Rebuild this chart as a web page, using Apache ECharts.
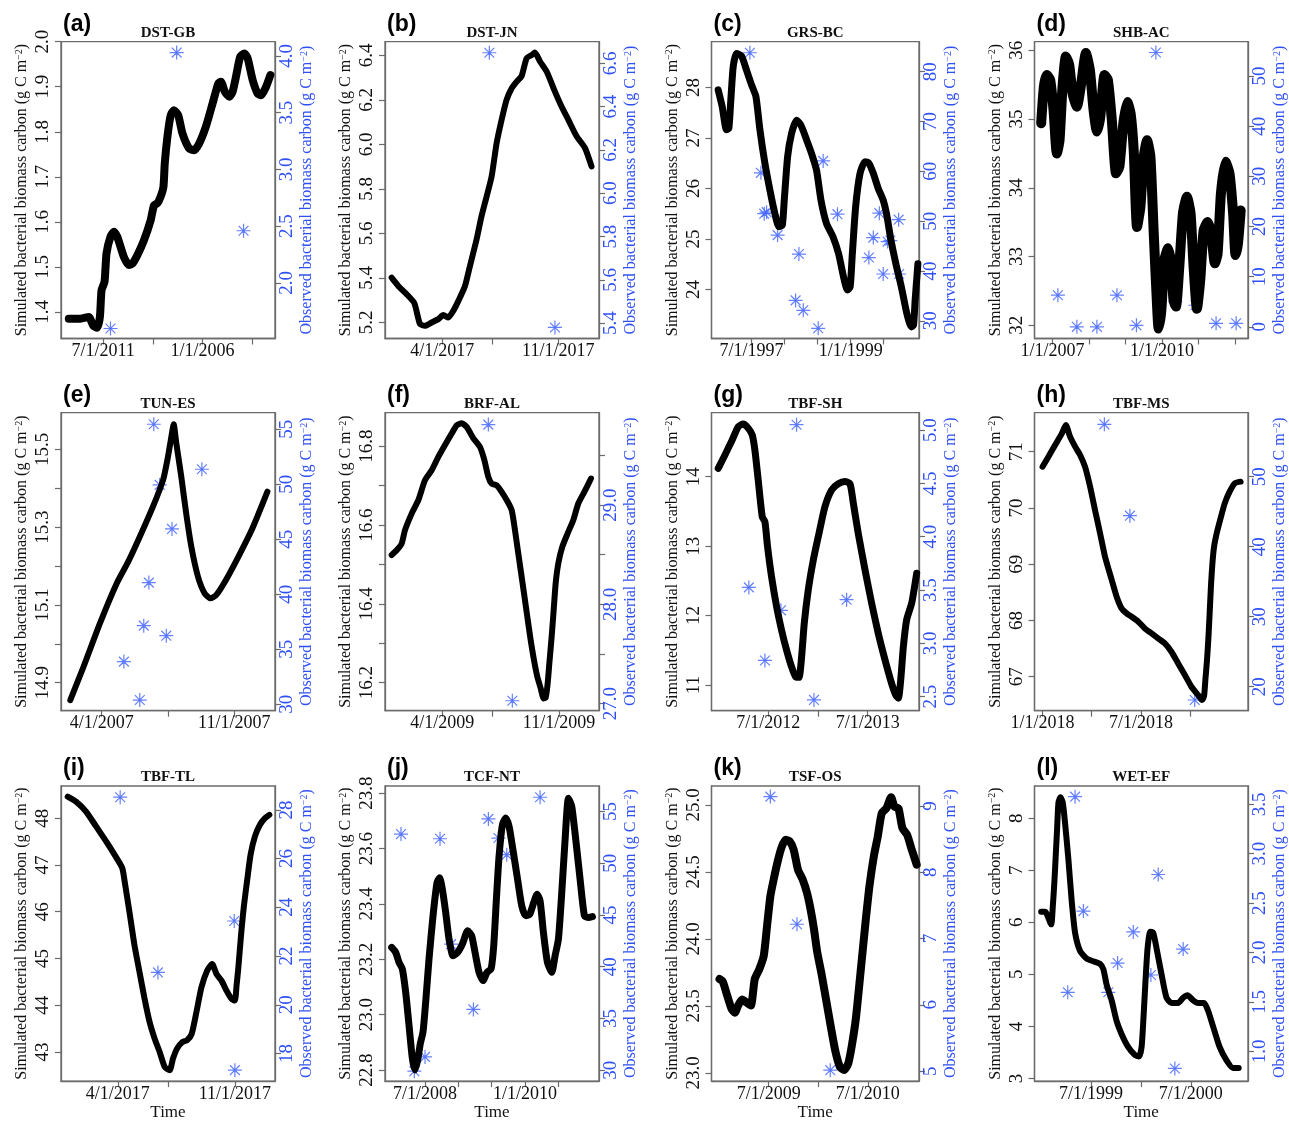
<!DOCTYPE html>
<html>
<head>
<meta charset="utf-8">
<script src="https://cdn.jsdelivr.net/npm/echarts@6/dist/echarts.min.js"></script>
<style>
  html, body { margin: 0; padding: 0; background: #fff; }
  #chart { width: 1289px; height: 1122px; }
</style>
</head>
<body>
<div id="chart"></div>
<script>
// x values are months from the first labelled tick of each panel
const siteNames = ['DST-GB', 'DST-JN', 'GRS-BC', 'SHB-AC', 'TUN-ES', 'BRF-AL', 'TBF-SH', 'TBF-MS', 'TBF-TL', 'TCF-NT', 'TSF-OS', 'WET-EF']
const panelLetters = ['(a)', '(b)', '(c)', '(d)', '(e)', '(f)', '(g)', '(h)', '(i)', '(j)', '(k)', '(l)']

// simulated (black) series, [month, g C m-2]
const simA = [[-2.08,1.385],[-1.37,1.385],[-0.87,1.389],[-0.61,1.370],[-0.36,1.365],[-0.20,1.389],[-0.10,1.448],[0.08,1.467],[0.20,1.530],[0.44,1.567],[0.65,1.578],[0.85,1.567],[1.25,1.522],[1.56,1.504],[1.76,1.507],[2.06,1.526],[2.46,1.559],[2.87,1.604],[3.07,1.637],[3.27,1.641],[3.47,1.656],[3.64,1.678],[3.72,1.730],[3.88,1.789],[4.08,1.837],[4.28,1.848],[4.53,1.837],[4.79,1.796],[5.19,1.763],[5.49,1.759],[5.80,1.774],[6.20,1.811],[6.61,1.863],[6.95,1.907],[7.11,1.911],[7.35,1.889],[7.62,1.878],[7.82,1.889],[8.02,1.922],[8.28,1.967],[8.53,1.974],[8.73,1.963],[9.03,1.915],[9.33,1.885],[9.54,1.881],[9.84,1.900],[10.10,1.926]]
const simB = [[-3.06,5.401],[-2.66,5.364],[-2.15,5.327],[-1.69,5.287],[-1.35,5.193],[-1.05,5.185],[-0.64,5.200],[-0.24,5.215],[0.06,5.233],[0.36,5.222],[0.66,5.252],[0.97,5.297],[1.37,5.364],[1.67,5.454],[2.07,5.573],[2.37,5.678],[2.68,5.767],[2.98,5.857],[3.28,6.006],[3.58,6.110],[3.88,6.200],[4.19,6.252],[4.49,6.282],[4.79,6.307],[5.09,6.387],[5.39,6.401],[5.59,6.412],[5.90,6.372],[6.30,6.327],[6.80,6.237],[7.20,6.170],[7.61,6.110],[8.11,6.036],[8.61,5.984],[9.01,5.901]]
const simC = [[-6.06,27.95],[-5.33,27.62],[-4.55,27.16],[-4.12,27.19],[-3.76,27.75],[-3.33,28.41],[-2.73,28.67],[-1.82,28.62],[-0.91,28.34],[0,28.05],[0.79,27.82],[1.52,27.16],[2.42,26.50],[3.33,25.97],[4.24,25.50],[4.97,25.24],[5.58,25.27],[5.94,25.77],[6.55,26.63],[7.27,27.09],[8.18,27.35],[8.97,27.25],[10.0,26.96],[10.9,26.69],[11.8,26.36],[12.6,25.77],[13.6,25.31],[14.8,25.04],[15.8,24.71],[16.7,24.25],[17.4,23.99],[17.9,24.05],[18.3,24.71],[18.9,25.64],[19.7,26.30],[20.6,26.53],[21.3,26.50],[22.1,26.30],[23.0,26.00],[23.9,25.77],[24.5,25.50],[25.3,24.98],[26.2,24.51],[27.2,24.05],[28.2,23.52],[29.0,23.26],[29.4,23.29],[29.7,23.79],[30.2,24.51]]
const simD = [[-3.73,34.94],[-2.85,35.47],[-1.87,35.64],[-0.77,35.57],[0.33,35.13],[1.43,34.50],[2.31,34.69],[3.29,35.47],[4.39,35.91],[5.49,35.79],[6.59,35.37],[8.01,35.18],[9.44,35.52],[10.98,35.96],[12.29,35.71],[13.5,35.13],[14.6,34.82],[15.7,35.03],[17.1,35.64],[18.2,35.57],[19.5,34.99],[20.9,34.21],[22.0,34.31],[23.3,34.94],[24.6,35.25],[25.7,35.08],[26.7,34.55],[27.8,33.43],[28.9,33.72],[30.0,34.45],[31.1,34.69],[32.2,34.45],[33.3,33.33],[34.4,32.27],[34.9,31.95],[35.8,32.22],[36.8,32.95],[38.0,33.12],[39.0,32.90],[39.8,32.36],[40.6,32.27],[41.7,32.85],[42.9,33.63],[44.2,33.87],[45.4,33.63],[46.4,32.85],[47.5,32.24],[48.6,32.66],[49.7,33.38],[51.0,33.50],[52.2,33.33],[53.4,32.90],[54.3,33.04],[55.4,33.92],[56.9,34.38],[58.2,34.21],[59.4,33.63],[60.2,33.02],[61.0,33.19],[61.9,33.67]]
const simE = [[-1.66,14.855],[-0.96,14.941],[-0.09,15.053],[0.79,15.155],[1.40,15.211],[2.01,15.275],[2.71,15.353],[3.24,15.421],[3.50,15.481],[3.68,15.533],[3.80,15.564],[3.94,15.515],[4.20,15.430],[4.46,15.335],[4.73,15.250],[5.08,15.173],[5.43,15.130],[5.74,15.117],[6.04,15.125],[6.56,15.164],[7.26,15.228],[7.96,15.297],[8.75,15.391]]
const simF = [[-3.04,16.524],[-2.74,16.536],[-2.44,16.553],[-2.24,16.587],[-1.84,16.629],[-1.44,16.663],[-1.04,16.714],[-0.64,16.739],[-0.24,16.773],[0.16,16.803],[0.56,16.832],[0.86,16.853],[1.16,16.858],[1.46,16.849],[1.86,16.820],[2.26,16.798],[2.52,16.765],[2.76,16.722],[2.96,16.705],[3.26,16.701],[3.56,16.684],[3.92,16.659],[4.16,16.638],[4.30,16.604],[4.50,16.545],[4.70,16.486],[4.90,16.427],[5.10,16.367],[5.30,16.308],[5.50,16.257],[5.70,16.215],[5.90,16.186],[6.08,16.160],[6.20,16.162],[6.32,16.198],[6.42,16.249],[6.56,16.317],[6.68,16.384],[6.80,16.452],[6.96,16.503],[7.20,16.545],[7.52,16.579],[7.86,16.613],[8.16,16.655],[8.52,16.684],[8.92,16.718]]
const simG = [[-6.04,14.12],[-5.24,14.31],[-4.35,14.53],[-3.62,14.72],[-3.02,14.76],[-2.42,14.70],[-1.93,14.60],[-1.61,14.38],[-1.21,13.95],[-0.72,13.42],[-0.40,13.35],[-0.08,12.99],[0.40,12.56],[1.01,12.13],[1.61,11.79],[2.22,11.50],[2.82,11.26],[3.30,11.12],[3.71,11.11],[4.03,11.41],[4.35,11.89],[4.83,12.37],[5.44,12.80],[6.12,13.18],[6.85,13.57],[7.65,13.81],[8.46,13.90],[9.26,13.93],[9.87,13.90],[10.27,13.62],[10.87,13.18],[11.68,12.66],[12.48,12.18],[13.29,11.74],[14.10,11.36],[14.90,11.02],[15.38,10.86],[15.71,10.81],[15.99,11.07],[16.31,11.55],[16.71,11.94],[17.32,12.18],[17.92,12.61]]
const simH = [[0,70.733],[0.36,70.911],[0.77,71.119],[1.18,71.326],[1.42,71.474],[1.68,71.267],[1.99,71.089],[2.29,70.941],[2.59,70.733],[2.90,70.378],[3.20,69.963],[3.51,69.548],[3.81,69.133],[4.22,68.719],[4.52,68.422],[4.82,68.215],[5.13,68.126],[5.43,68.067],[5.84,67.978],[6.24,67.859],[6.65,67.770],[7.05,67.681],[7.46,67.593],[7.86,67.444],[8.27,67.237],[8.68,67.030],[9.08,66.822],[9.49,66.674],[9.73,66.585],[9.85,66.656],[9.93,66.941],[10.03,67.296],[10.12,67.711],[10.20,68.185],[10.28,68.659],[10.36,69.015],[10.46,69.311],[10.62,69.548],[10.83,69.785],[11.11,70.081],[11.41,70.289],[11.72,70.437],[12.08,70.467]]
const simI = [[-3.0,48.461],[-2.5,48.355],[-1.9,48.142],[-1.3,47.823],[-0.7,47.504],[-0.2,47.220],[0.26,46.936],[0.42,46.617],[0.70,45.979],[1.00,45.270],[1.30,44.702],[1.60,44.135],[1.90,43.638],[2.20,43.284],[2.50,43.000],[2.80,42.681],[3.10,42.610],[3.30,42.858],[3.54,43.071],[3.86,43.213],[4.14,43.248],[4.42,43.390],[4.70,43.851],[5.00,44.383],[5.34,44.738],[5.64,44.879],[5.90,44.667],[6.20,44.525],[6.50,44.312],[6.80,44.135],[7.00,44.099],[7.10,44.418],[7.20,44.773],[7.30,45.199],[7.40,45.624],[7.54,46.121],[7.74,46.688],[7.94,47.220],[8.20,47.610],[8.50,47.858],[8.80,48.000],[9.06,48.071]]
const simJ = [[-6.0,23.243],[-5.28,23.225],[-4.68,23.189],[-4.08,23.165],[-3.48,23.081],[-2.88,22.962],[-2.28,22.842],[-1.80,22.800],[-1.32,22.836],[-0.84,22.896],[-0.36,22.938],[0.12,23.046],[0.72,23.201],[1.44,23.357],[2.16,23.477],[2.64,23.495],[3.12,23.453],[3.72,23.369],[4.32,23.273],[5.04,23.213],[5.88,23.225],[6.72,23.255],[7.68,23.303],[8.40,23.285],[9.00,23.225],[9.72,23.153],[10.44,23.123],[11.16,23.153],[11.88,23.165],[12.36,23.249],[12.84,23.417],[13.32,23.572],[13.92,23.686],[14.52,23.710],[15.12,23.680],[15.72,23.608],[16.56,23.501],[17.40,23.393],[18.12,23.357],[18.84,23.363],[19.56,23.405],[20.16,23.435],[20.70,23.411],[21.30,23.297],[22.02,23.189],[22.80,23.153],[23.40,23.213],[24.00,23.273],[24.60,23.441],[25.20,23.632],[25.80,23.782],[26.40,23.752],[27.12,23.632],[27.90,23.489],[28.68,23.357],[29.40,23.351],[30.12,23.354]]
const simK = [[-5.96,23.700],[-5.56,23.681],[-5.03,23.577],[-4.51,23.478],[-4.11,23.448],[-3.71,23.502],[-3.22,23.547],[-2.74,23.527],[-2.17,23.502],[-1.69,23.700],[-1.13,23.775],[-0.60,23.874],[-0.20,24.097],[0.20,24.319],[0.60,24.443],[1.09,24.579],[1.53,24.678],[2.01,24.740],[2.54,24.728],[3.02,24.666],[3.54,24.517],[4.11,24.443],[4.63,24.344],[5.07,24.220],[5.48,24.072],[5.88,23.899],[6.36,23.750],[6.93,23.552],[7.49,23.354],[8.05,23.168],[8.62,23.045],[9.14,23.020],[9.63,23.069],[10.07,23.205],[10.55,23.403],[11.12,23.750],[11.68,24.097],[12.20,24.394],[12.73,24.616],[13.21,24.765],[13.69,24.938],[14.26,24.975],[14.82,25.057],[15.22,24.988],[15.71,24.975],[16.19,24.827],[16.76,24.777],[17.32,24.666],[17.92,24.554]]
const simL = [[-6.0,6.2],[-5.52,6.2],[-4.8,5.96],[-4.6,6.3],[-4.4,6.8],[-4.24,7.3],[-4.08,7.8],[-3.92,8.3],[-3.68,8.4],[-3.4,8.3],[-3.12,7.9],[-2.72,7.2],[-2.32,6.4],[-1.92,5.8],[-1.32,5.45],[-0.52,5.3],[0.28,5.25],[1.08,5.2],[1.48,5.1],[1.88,4.8],[2.48,4.5],[3.08,4.1],[3.68,3.85],[4.48,3.6],[5.28,3.45],[5.76,3.42],[6.08,3.6],[6.32,4.2],[6.56,4.9],[6.8,5.5],[7.12,5.82],[7.48,5.8],[7.88,5.5],[8.48,5.0],[9.08,4.55],[9.68,4.45],[10.48,4.45],[11.08,4.55],[11.6,4.6],[12.28,4.5],[12.88,4.45],[13.6,4.45],[14.08,4.3],[14.68,4.0],[15.48,3.6],[16.28,3.35],[17.08,3.2],[17.76,3.2]]

// observed (blue) points, [month, g C m-2]
const obsA = [[0.44,1.597],[4.44,4.03],[8.48,2.459]]
const obsB = [[2.84,6.649],[6.80,5.380]]
const obsC = [[-0.30,83.8],[1.70,59.7],[2.30,51.5],[2.73,51.8],[4.73,47.2],[8.0,34.1],[8.6,43.4],[9.39,32.1],[12.1,28.5],[13.0,62.1],[15.6,51.4],[21.3,42.7],[22.1,46.7],[23.2,51.6],[23.9,39.4],[24.7,45.9],[25.2,46.1],[26.7,50.3],[26.8,39.4]]
const obsD = [[1.76,6.3],[8.01,0],[14.6,0],[21.2,6.3],[27.6,0.3],[34.0,54.7],[40.4,5.0],[47.0,4.3],[53.8,0.7],[60.4,0.7]]
const obsE = [[2.75,55.45],[3.06,49.94],[3.71,45.94],[5.29,51.36],[2.49,41.06],[2.22,37.15],[3.41,36.24],[1.17,33.88],[2.01,30.39]]
const obsF = [[2.76,29.81],[4.2,27.03]]
const obsG = [[3.42,5.05],[-2.34,3.525],[-0.40,2.84],[1.53,3.31],[5.52,2.47],[9.46,3.41]]
const obsH = [[3.77,57.48],[5.33,44.43],[9.28,18.10]]
const obsI = [[0.14,28.52],[2.40,21.33],[6.96,23.44],[7.0,17.32]]
const obsJ = [[-4.32,52.82],[2.70,52.37],[4.68,42.18],[8.70,35.87],[11.40,54.29],[13.20,52.44],[14.70,50.83],[20.70,56.38],[0,31.28],[-1.92,29.90]]
const obsK = [[0.20,9.14],[3.42,7.215],[7.45,5.015]]
const obsL = [[-1.92,3.577],[-0.92,2.419],[-2.8,1.597],[2.08,1.597],[3.2,1.893],[5.08,2.208],[7.2,1.772],[8.08,2.789],[10.08,0.826],[11.08,2.034]]

// tick values and labels
const xTicksA = [0, 3, 6, 9]
const xLabelsA = [[0, '7/1/2011'], [6, '1/1/2006']]
const xTicksB = [0, 3, 7]
const xLabelsB = [[0, '4/1/2017'], [7, '11/1/2017']]
const xTicksC = [0, 6, 12, 18, 24]
const xLabelsC = [[0, '7/1/1997'], [18, '1/1/1999']]
const xTicksD = [0, 12, 24, 36, 48, 60]
const xLabelsD = [[0, '1/1/2007'], [36, '1/1/2010']]
const xTicksE = [0, 3.5, 7]
const xLabelsE = [[0, '4/1/2007'], [7, '11/1/2007']]
const xTicksF = [0, 3, 7]
const xLabelsF = [[0, '4/1/2009'], [7, '11/1/2009']]
const xTicksG = [0, 6, 12]
const xLabelsG = [[0, '7/1/2012'], [12, '7/1/2013']]
const xTicksH = [0, 3, 6, 9]
const xLabelsH = [[0, '1/1/2018'], [6, '7/1/2018']]
const xTicksI = [0, 3, 7]
const xLabelsI = [[0, '4/1/2017'], [7, '11/1/2017']]
const xTicksJ = [0, 6, 12, 18, 24]
const xLabelsJ = [[0, '7/1/2008'], [18, '1/1/2010']]
const xTicksK = [0, 6, 12]
const xLabelsK = [[0, '7/1/2009'], [12, '7/1/2010']]
const xTicksL = [0, 6, 12]
const xLabelsL = [[0, '7/1/1999'], [12, '7/1/2000']]

const leftLabelsA = ['1.4', '1.5', '1.6', '1.7', '1.8', '1.9', '2.0']
const rightLabelsA = ['2.0', '2.5', '3.0', '3.5', '4.0']
const leftLabelsB = ['5.2', '5.4', '5.6', '5.8', '6.0', '6.2', '6.4']
const rightLabelsB = ['5.4', '5.6', '5.8', '6.0', '6.2', '6.4', '6.6']
const leftLabelsC = ['24', '25', '26', '27', '28']
const rightLabelsC = ['30', '40', '50', '60', '70', '80']
const leftLabelsD = ['32', '33', '34', '35', '36']
const rightLabelsD = ['0', '10', '20', '30', '40', '50']
const leftTicksE = [14.9, 15.0, 15.1, 15.2, 15.3, 15.4, 15.5]
const leftLabelsE = ['14.9', '15.1', '15.3', '15.5']
const rightLabelsE = ['30', '35', '40', '45', '50', '55']
const leftTicksF = [16.2, 16.3, 16.4, 16.5, 16.6, 16.7, 16.8]
const leftLabelsF = ['16.2', '16.4', '16.6', '16.8']
const rightTicksF = [27.0, 27.5, 28.0, 28.5, 29.0, 29.5]
const rightLabelsF = ['27.0', '28.0', '29.0']
const leftLabelsG = ['11', '12', '13', '14']
const rightLabelsG = ['2.5', '3.0', '3.5', '4.0', '4.5', '5.0']
const leftLabelsH = ['67', '68', '69', '70', '71']
const rightLabelsH = ['20', '30', '40', '50']
const leftLabelsI = ['43', '44', '45', '46', '47', '48']
const rightLabelsI = ['18', '20', '22', '24', '26', '28']
const leftLabelsJ = ['22.8', '23.0', '23.2', '23.4', '23.6', '23.8']
const rightLabelsJ = ['30', '35', '40', '45', '50', '55']
const leftLabelsK = ['23.0', '23.5', '24.0', '24.5', '25.0']
const rightLabelsK = ['5', '6', '7', '8', '9']
const leftLabelsL = ['3', '4', '5', '6', '7', '8']
const rightLabelsL = ['1.0', '1.5', '2.0', '2.5', '3.0', '3.5']

const panels = [
  { sim: simA, obs: obsA, xr: [-2.55, 10.38], xt: xTicksA, xl: xLabelsA, yl: [1.341, 2.0], ll: leftLabelsA, yr: [1.509, 4.126], rl: rightLabelsA, lw: 8 },
  { sim: simB, obs: obsB, xr: [-3.46, 9.46], xt: xTicksB, xl: xLabelsB, yl: [5.128, 6.461], ll: leftLabelsB, yr: [5.329, 6.700], rl: rightLabelsB },
  { sim: simC, obs: obsC, xr: [-7.27, 30.4], xt: xTicksC, xl: xLabelsC, yl: [23.03, 28.904], ll: leftLabelsC, yr: [26.45, 86.02], rl: rightLabelsC, lw: 7 },
  { sim: simD, obs: obsD, xr: [-5.93, 64.3], xt: xTicksD, xl: xLabelsD, yl: [31.806, 36.126], ll: leftLabelsD, yr: [-2.33, 56.85], rl: rightLabelsD, lw: 10 },
  { sim: simE, obs: obsE, xr: [-2.15, 9.15], xt: xTicksE, xl: xLabelsE, yl: [14.828, 15.594], ll: leftLabelsE, lt: leftTicksE, yr: [29.42, 56.5], rl: rightLabelsE },
  { sim: simF, obs: obsF, xr: [-3.44, 9.4], xt: xTicksF, xl: xLabelsF, yl: [16.129, 16.885], ll: leftLabelsF, lt: leftTicksF, yr: [26.93, 29.93], rl: rightLabelsF, rt: rightTicksF },
  { sim: simG, obs: obsG, xr: [-6.85, 18.2], xt: xTicksG, xl: xLabelsG, yl: [10.63, 14.922], ll: leftLabelsG, yr: [2.369, 5.1625], rl: rightLabelsG, lw: 7 },
  { sim: simH, obs: obsH, xr: [-0.49, 12.53], xt: xTicksH, xl: xLabelsH, yl: [66.396, 71.693], ll: leftLabelsH, yr: [16.57, 59.14], rl: rightLabelsH },
  { sim: simI, obs: obsI, xr: [-3.4, 9.4], xt: xTicksI, xl: xLabelsI, yl: [42.376, 48.688], ll: leftLabelsI, yr: [16.87, 28.98], rl: rightLabelsI },
  { sim: simJ, obs: obsJ, xr: [-7.2, 31.3], xt: xTicksJ, xl: xLabelsJ, yl: [22.76, 23.826], ll: leftLabelsJ, yr: [28.94, 57.47], rl: rightLabelsJ, lw: 7 },
  { sim: simK, obs: obsK, xr: [-6.93, 18.2], xt: xTicksK, xl: xLabelsK, yl: [22.938, 25.141], ll: leftLabelsK, yr: [4.85, 9.30], rl: rightLabelsK, lw: 8 },
  { sim: simL, obs: obsL, xr: [-6.8, 18.88], xt: xTicksL, xl: xLabelsL, yl: [2.949, 8.618], ll: leftLabelsL, yr: [0.698, 3.685], rl: rightLabelsL }
]

const colLeft = [61, 385, 711.5, 1034.5]
const colRight = [275, 599, 919, 1248]
const rowTop = [41.7, 412.7, 786]
const rowBottom = [338.5, 710.7, 1082.7]

const SERIF = "'Liberation Serif', 'Times New Roman', serif"
const SANS = "'Liberation Sans', Arial, sans-serif"
const BLUE = '#2f50f5'
const STAR_BLUE = '#3f62ff'
const BOX = '#6b6b6b'
const asterisk = 'path://M10,0L10,20M0,10L20,10M3,3L17,17M3,17L17,3M9,10a1,1 0 1,0 2,0a1,1 0 1,0 -2,0'

const grids = [], xAxes = [], yAxes = [], series = [], texts = []

panels.forEach((p, i) => {
  const col = i % 4
  const row = Math.floor(i / 4)
  const L = colLeft[col], R = colRight[col], T = rowTop[row], B = rowBottom[row]
  grids.push({ left: L, top: T, width: R - L, height: B - T, show: true, borderColor: BOX, borderWidth: 1.3, backgroundColor: 'transparent' })

  const tickStyle = { show: true, inside: false, length: 6, lineStyle: { color: BOX, width: 1.2 } }
  const lineStyle = { show: true, onZero: false, lineStyle: { color: BOX, width: 1.3 } }
  xAxes.push({
    gridIndex: i, type: 'value', min: p.xr[0], max: p.xr[1],
    axisLine: lineStyle,
    axisTick: Object.assign({ customValues: p.xt }, tickStyle),
    splitLine: { show: false },
    axisLabel: {
      customValues: p.xl.map(d => d[0]),
      formatter: v => { const f = p.xl.find(d => Math.abs(d[0] - v) < 1e-6); return f ? f[1] : '' },
      fontFamily: SERIF, fontSize: 18, color: '#111', margin: 4, hideOverlap: false
    },
    name: row === 2 ? 'Time' : '',
    nameLocation: 'middle', nameGap: 16,
    nameTextStyle: { fontFamily: SERIF, fontSize: 17, color: '#111' }
  })

  const lVals = p.ll.map(Number)
  const rVals = p.rl.map(Number)
  yAxes.push({
    gridIndex: i, type: 'value', position: 'left', min: p.yl[0], max: p.yl[1],
    axisLine: lineStyle,
    axisTick: Object.assign({ customValues: p.lt || lVals }, tickStyle),
    splitLine: { show: false },
    axisLabel: {
      customValues: lVals, rotate: 90, margin: 8,
      formatter: v => { const k = lVals.findIndex(t => Math.abs(t - v) < 1e-9); return k >= 0 ? p.ll[k] : '' },
      fontFamily: SERIF, fontSize: 19, color: '#111'
    },
    name: 'Simulated bacterial biomass carbon (g C m{sup|\u22122})',
    nameLocation: 'middle', nameGap: 31,
    nameTextStyle: { fontFamily: SERIF, fontSize: 16, color: '#111', rich: { sup: { fontSize: 10, fontFamily: SERIF, color: '#111', verticalAlign: 'top', padding: [0, 0, 6, 0] } } }
  })
  yAxes.push({
    gridIndex: i, type: 'value', position: 'right', min: p.yr[0], max: p.yr[1],
    axisLine: lineStyle,
    axisTick: Object.assign({ customValues: p.rt || rVals }, tickStyle),
    splitLine: { show: false },
    axisLabel: {
      customValues: rVals, rotate: 90, margin: 3,
      formatter: v => { const k = rVals.findIndex(t => Math.abs(t - v) < 1e-9); return k >= 0 ? p.rl[k] : '' },
      fontFamily: SERIF, fontSize: 19, color: BLUE
    },
    name: 'Observed bacterial biomass carbon (g C m{sup|\u22122})',
    nameLocation: 'middle', nameGap: 24,
    nameTextStyle: { fontFamily: SERIF, fontSize: 16, color: BLUE, rich: { sup: { fontSize: 10, fontFamily: SERIF, color: BLUE, verticalAlign: 'top', padding: [0, 0, 6, 0] } } }
  })

  series.push({
    type: 'line', xAxisIndex: i, yAxisIndex: 2 * i, data: p.sim,
    showSymbol: false, smooth: 0.2, silent: true,
    lineStyle: { color: '#000', width: p.lw || 6, cap: 'round', join: 'round' }
  })
  series.push({
    type: 'scatter', xAxisIndex: i, yAxisIndex: 2 * i + 1, data: p.obs,
    symbol: asterisk, symbolSize: 14, silent: true,
    itemStyle: { color: STAR_BLUE, borderColor: STAR_BLUE, borderWidth: 1.2 }
  })

  texts.push({
    type: 'text', x: L + 2, y: T - 17,
    style: { text: panelLetters[i], font: `bold 23px ${SANS}`, fill: '#000', textVerticalAlign: 'middle' }
  })
  texts.push({
    type: 'text', x: (L + R) / 2, y: T - 9,
    style: { text: siteNames[i], font: `bold 15px ${SERIF}`, fill: '#111', textAlign: 'center', textVerticalAlign: 'middle' }
  })
})

const chart = echarts.init(document.getElementById('chart'), null, { renderer: 'canvas' })
chart.setOption({
  animation: false,
  backgroundColor: '#fff',
  textStyle: { fontFamily: SERIF },
  grid: grids,
  xAxis: xAxes,
  yAxis: yAxes,
  series: series,
  graphic: texts
})
</script>
</body>
</html>
